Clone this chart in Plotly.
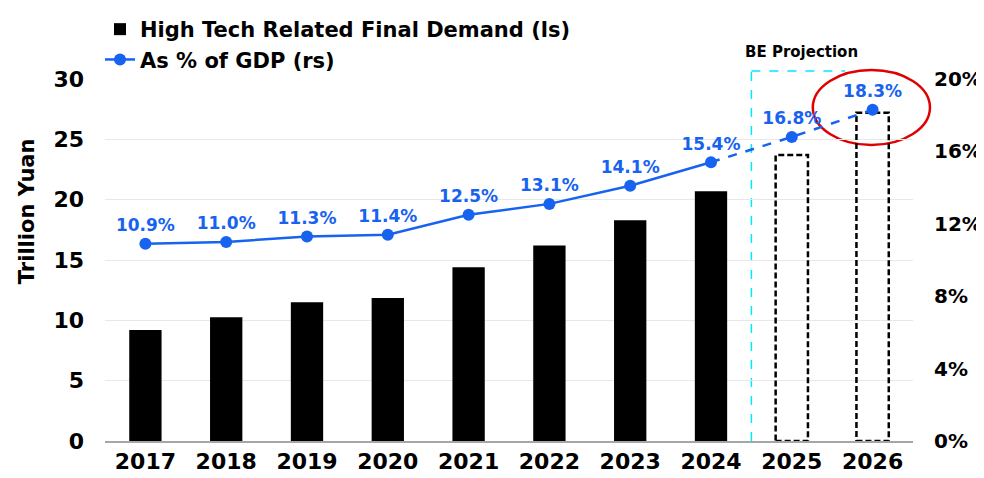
import plotly.graph_objects as go

# dados
anos = ["2017", "2018", "2019", "2020", "2021", "2022", "2023", "2024", "2025", "2026"]
demanda = [9.2, 10.25, 11.5, 11.85, 14.4, 16.2, 18.3, 20.7]   # realizado (trilhoes de yuan)
demanda_proj = [23.7, 27.2]                                   # projecao BE 2025-2026
pct_pib = [10.9, 11.0, 11.3, 11.4, 12.5, 13.1, 14.1, 15.4, 16.8, 18.3]
ticks_esq = [0, 5, 10, 15, 20, 25, 30]
ticks_dir = [0, 4, 8, 12, 16, 20]

AZUL = "#1763f0"
FONTE = "DejaVu Sans"
n_real = len(demanda)
idx = list(range(len(anos)))
larg = 0.4
fonte_rotulo = dict(family=FONTE, size=17, color=AZUL, weight="bold")

# a pagina tem margem de 8px no body, entao a figura e um pouco menor
W, H = 976, 470

fig = go.Figure()

# barras realizadas
fig.add_trace(go.Bar(
    x=idx[:n_real], y=demanda, width=larg,
    marker=dict(color="black", line=dict(width=0)),
    name="High Tech Related Final Demand (ls)",
))

# linha % PIB (solida ate 2024, tracejada na projecao)
fig.add_trace(go.Scatter(
    x=idx[:n_real], y=pct_pib[:n_real], yaxis="y2",
    mode="lines+markers+text",
    line=dict(color=AZUL, width=2.5),
    marker=dict(color=AZUL, size=12),
    text=[f"{v:.1f}%" for v in pct_pib[:n_real]],
    textposition="top center", textfont=fonte_rotulo,
    name="As % of GDP (rs)",
))
fig.add_trace(go.Scatter(
    x=idx[n_real - 1:], y=pct_pib[n_real - 1:], yaxis="y2",
    mode="lines", line=dict(color=AZUL, width=2.5, dash="dash"),
    showlegend=False, hoverinfo="skip",
))
fig.add_trace(go.Scatter(
    x=idx[n_real:], y=pct_pib[n_real:], yaxis="y2",
    mode="markers+text",
    marker=dict(color=AZUL, size=12),
    text=[f"{v:.1f}%" for v in pct_pib[n_real:]],
    textposition="top center", textfont=fonte_rotulo,
    showlegend=False,
))

elipse = dict(type="circle", xref="paper", yref="paper", x0=0.876, x1=1.021, y0=0.8175, y1=1.025)
ciano = dict(color="#00e8ff", width=1.5, dash="dash")
shapes = [
    # caixa da projecao (ciano tracejado), some atras da elipse
    dict(type="line", xref="x", yref="paper", x0=n_real - 0.5, x1=n_real - 0.5, y0=0, y1=1.022,
         line=ciano, layer="between"),
    dict(type="line", xref="x", yref="paper", x0=n_real - 0.5, x1=8.66, y0=1.022, y1=1.022,
         line=ciano, layer="between"),
    # fundo branco da elipse
    dict(**elipse, line=dict(width=0), fillcolor="white", layer="between"),
]
# barras projetadas (contorno tracejado)
for i, v in zip(idx[n_real:], demanda_proj):
    shapes.append(dict(type="rect", xref="x", yref="y", x0=i - larg / 2, x1=i + larg / 2, y0=0, y1=v,
                       line=dict(color="black", width=2.5, dash="6px,3px"),
                       fillcolor="rgba(0,0,0,0)", layer="between"))
# contorno vermelho da elipse
shapes.append(dict(**elipse, line=dict(color="#e00000", width=2.5), fillcolor="rgba(0,0,0,0)", layer="between"))

fig.update_layout(
    width=W, height=H,
    margin=dict(l=97, r=71, t=71, b=37, autoexpand=False),
    paper_bgcolor="white", plot_bgcolor="white",
    font=dict(family=FONTE, size=22, color="black", weight="bold"),
    showlegend=True,
    legend=dict(x=92 / W, y=1 - 1 / H, xref="container", yref="container", xanchor="left", yanchor="top",
                bgcolor="rgba(0,0,0,0)", font=dict(size=21), itemwidth=30, tracegroupgap=0),
    xaxis=dict(
        range=[-0.5, len(anos) - 0.5], tickvals=idx, ticktext=anos,
        showgrid=False, showline=True, linecolor="#a6a6a6", linewidth=2,
        tickfont=dict(size=22), ticks="", zeroline=False,
    ),
    yaxis=dict(
        range=[0, 30], tickvals=ticks_esq, showgrid=True, gridcolor="#e8e8e8", gridwidth=1,
        zeroline=False, ticks="", ticklabelstandoff=20, tickfont=dict(size=22),
    ),
    yaxis2=dict(
        range=[0, 20], tickvals=ticks_dir, ticktext=[f"{v}%" for v in ticks_dir],
        overlaying="y", side="right",
        showgrid=False, zeroline=False, ticks="", ticklabelstandoff=20, tickfont=dict(size=20),
    ),
    shapes=shapes,
    annotations=[
        dict(text="BE Projection", xref="paper", yref="paper", x=0.8626, y=1.075,
             showarrow=False, font=dict(size=15, color="black"), xanchor="center", yanchor="middle"),
        dict(text="Trillion Yuan", xref="paper", yref="paper", x=-0.0965, y=0.635, textangle=-90,
             showarrow=False, font=dict(size=21, color="black"), xanchor="center", yanchor="middle"),
    ],
)

fig.write_html("out.html")
